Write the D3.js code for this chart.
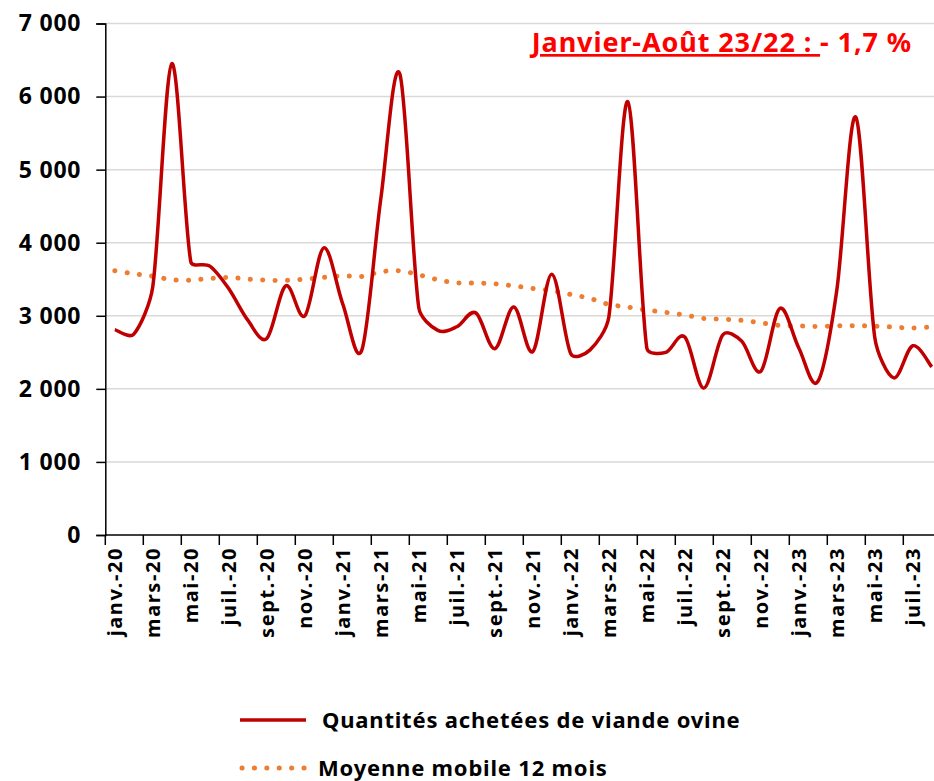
<!DOCTYPE html>
<html>
<head>
<meta charset="utf-8">
<script src="https://cdnjs.cloudflare.com/ajax/libs/d3/7.8.5/d3.min.js"></script>
<style>
    body { margin: 0; background: #fff; }
    #chart-area svg { display: block; font-family: "Noto Sans", sans-serif; font-weight: bold; }
</style>
</head>
<body>
<div id="chart-area"></div>
<script>
var mois = [
    "janv.-20", "févr.-20", "mars-20", "avr.-20", "mai-20", "juin-20", "juil.-20", "août-20", "sept.-20", "oct.-20", "nov.-20", "déc.-20",
    "janv.-21", "févr.-21", "mars-21", "avr.-21", "mai-21", "juin-21", "juil.-21", "août-21", "sept.-21", "oct.-21", "nov.-21", "déc.-21",
    "janv.-22", "févr.-22", "mars-22", "avr.-22", "mai-22", "juin-22", "juil.-22", "août-22", "sept.-22", "oct.-22", "nov.-22", "déc.-22",
    "janv.-23", "févr.-23", "mars-23", "avr.-23", "mai-23", "juin-23", "juil.-23", "août-23"
];

var quantites = [
    2810, 2750, 3400, 6450, 3740, 3680, 3370, 2940, 2690, 3410, 3000, 3930,
    3160, 2530, 4600, 6310, 3110, 2800, 2850, 3040, 2550, 3120, 2510, 3570,
    2480, 2530, 2980, 5930, 2560, 2500, 2710, 2010, 2740, 2650, 2240, 3100,
    2560, 2100, 3350, 5720, 2700, 2150, 2590, 2300
];

var moyenne = [
    3616, 3575, 3543, 3493, 3488, 3511, 3525, 3502, 3488, 3484, 3502, 3525,
    3547, 3538, 3602, 3616, 3561, 3493, 3452, 3447, 3438, 3408, 3375, 3342,
    3292, 3238, 3156, 3119, 3078, 3046, 3010, 2964, 2955, 2937, 2904, 2868,
    2863, 2854, 2863, 2863, 2859, 2845, 2832, 2850
];

var yTicks = [0, 1000, 2000, 3000, 4000, 5000, 6000, 7000];

var legendLabels = ["Quantités achetées de viande ovine", "Moyenne mobile 12 mois"];

function OvinChart(_parentElement) {
    this.parentElement = _parentElement;
    this.initVis();
}

OvinChart.prototype.initVis = function () {
    var vis = this;

    vis.width = 934;
    vis.height = 781;
    vis.left = 105.3;
    vis.top = 23.5;
    vis.bottom = 535;

    vis.svg = d3.select("#" + vis.parentElement).append("svg")
        .attr("width", vis.width)
        .attr("height", vis.height);

    // 44 mois de 19 px : le dernier dépasse du cadre, comme sur l'original
    vis.x = d3.scaleBand()
        .domain(mois)
        .range([vis.left, vis.left + 19 * mois.length]);

    vis.y = d3.scaleLinear()
        .domain([0, 7000])
        .range([vis.bottom, vis.top]);

    this.updateVis();
}

// lissage "à la Excel" : Catmull-Rom dont les tangentes sont bornées par la longueur des segments voisins
OvinChart.prototype.smoothPath = function (values) {
    var vis = this;
    var pts = values.map(function (d, i) {
        return [vis.x(mois[i]) + vis.x.bandwidth() / 2, vis.y(d)];
    });
    var n = pts.length;
    var tan = pts.map(function (p, i) {
        var a = pts[Math.max(i - 1, 0)], b = pts[Math.min(i + 1, n - 1)];
        return [(b[0] - a[0]) / 6, (b[1] - a[1]) / 6];
    });
    var k = 0.35;
    var ctrl = function (p, t, q, sign) {
        var tl = Math.hypot(t[0], t[1]);
        var sl = Math.hypot(q[0] - p[0], q[1] - p[1]);
        var s = tl > k * sl ? k * sl / tl : 1;
        return [p[0] + sign * t[0] * s, p[1] + sign * t[1] * s];
    };
    var path = d3.path();
    path.moveTo(pts[0][0], pts[0][1]);
    for (var i = 0; i < n - 1; i++) {
        var c1 = ctrl(pts[i], tan[i], pts[i + 1], 1);
        var c2 = ctrl(pts[i + 1], tan[i + 1], pts[i], -1);
        path.bezierCurveTo(c1[0], c1[1], c2[0], c2[1], pts[i + 1][0], pts[i + 1][1]);
    }
    return path.toString();
}

OvinChart.prototype.updateVis = function () {
    var vis = this;
    var fmt = function (d) { return d3.format(",")(d).replace(",", " "); };

    // grille
    vis.svg.append("g").selectAll("line")
        .data(yTicks.slice(1))
        .enter()
        .append("line")
        .attr("x1", vis.left)
        .attr("x2", vis.width)
        .attr("y1", function (d) { return vis.y(d); })
        .attr("y2", function (d) { return vis.y(d); })
        .attr("stroke", "#d9d9d9")
        .style("stroke-width", "1.5px");

    // axe Y
    var yAxis = d3.axisLeft(vis.y)
        .tickValues(yTicks)
        .tickFormat(fmt)
        .tickSize(9)
        .tickPadding(15);
    var gy = vis.svg.append("g")
        .attr("transform", "translate(" + vis.left + ",0)")
        .call(yAxis);
    gy.select(".domain").attr("stroke", "#000").style("stroke-width", "1.5px");
    gy.selectAll(".tick line").attr("stroke", "#000").style("stroke-width", "1.5px");
    gy.selectAll("text")
        .style("font-size", "23px")
        .style("letter-spacing", "0.8px")
        .style("font-family", "\"Noto Sans\", sans-serif")
        .style("font-weight", "bold")
        .attr("fill", "#000");

    // axe X
    vis.svg.append("line")
        .attr("x1", vis.left)
        .attr("x2", vis.width)
        .attr("y1", vis.bottom)
        .attr("y2", vis.bottom)
        .attr("stroke", "#000")
        .style("stroke-width", "1.5px");

    var pairs = mois.filter(function (d, i) { return i % 2 == 0; });

    vis.svg.append("g").selectAll("line")
        .data(pairs)
        .enter()
        .append("line")
        .attr("x1", function (d) { return vis.x(d); })
        .attr("x2", function (d) { return vis.x(d); })
        .attr("y1", vis.bottom)
        .attr("y2", vis.bottom + 10)
        .attr("stroke", "#000")
        .style("stroke-width", "1.5px");

    vis.svg.append("g").selectAll("text")
        .data(pairs)
        .enter()
        .append("text")
        .text(function (d) { return d; })
        .attr("transform", function (d) {
            return "translate(" + (vis.x(d) + vis.x.bandwidth() / 2) + "," + (vis.bottom + 12) + ") rotate(-90)";
        })
        .attr("dy", "0.36em")
        .style("text-anchor", "end")
        .style("letter-spacing", "1.6px")
        .style("font-size", "20px");

    // courbes
    vis.svg.append("path")
        .attr("d", vis.smoothPath(moyenne))
        .attr("fill", "none")
        .attr("stroke", "#ed7d31")
        .style("stroke-width", "5px")
        .style("stroke-linecap", "round")
        .style("stroke-dasharray", "0.1 12.3");

    vis.svg.append("path")
        .attr("d", vis.smoothPath(quantites))
        .attr("fill", "none")
        .attr("stroke", "#c00000")
        .style("stroke-width", "3.5px")
        .style("stroke-linejoin", "round");

    // annotation
    var note = vis.svg.append("text")
        .attr("x", 912)
        .attr("y", 52)
        .style("text-anchor", "end")
        .style("font-size", "27px")
        .style("letter-spacing", "0.9px")
        .attr("fill", "#ff0000");
    note.append("tspan")
        .text("Janvier-Août 23/22 : ")
        .style("text-decoration", "underline");
    note.append("tspan")
        .text("- 1,7 %");

    // légende
    var legend = vis.svg.append("g");
    legend.append("line")
        .attr("x1", 240).attr("x2", 306)
        .attr("y1", 720).attr("y2", 720)
        .attr("stroke", "#c00000")
        .style("stroke-width", "3.5px");
    legend.append("line")
        .attr("x1", 242).attr("x2", 305)
        .attr("y1", 768).attr("y2", 768)
        .attr("stroke", "#ed7d31")
        .style("stroke-width", "5px")
        .style("stroke-linecap", "round")
        .style("stroke-dasharray", "0.1 12.3");
    legend.selectAll("text")
        .data(legendLabels)
        .enter()
        .append("text")
        .text(function (d) { return d; })
        .attr("x", function (d, i) { return i == 0 ? 322 : 318; })
        .attr("y", function (d, i) { return 720 + i * 48; })
        .attr("dy", "0.35em")
        .style("letter-spacing", "0.8px")
        .style("font-size", "22px");
}

new OvinChart("chart-area");
</script>
</body>
</html>
